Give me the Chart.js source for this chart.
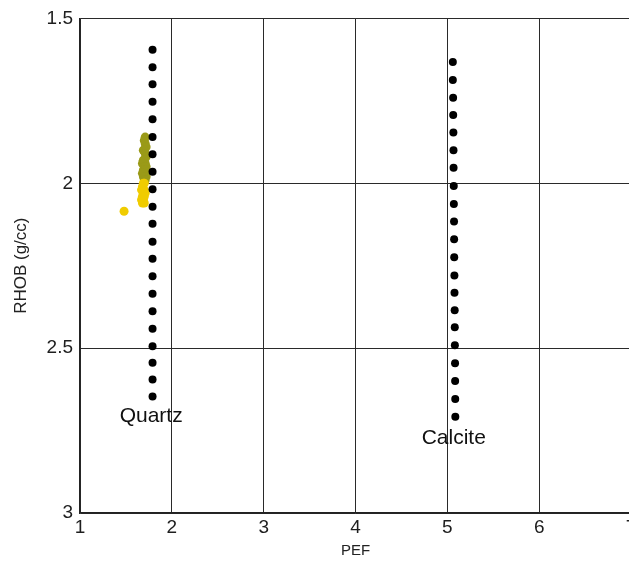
<!DOCTYPE html>
<html>
<head>
<meta charset="utf-8">
<script src="https://cdn.jsdelivr.net/npm/chart.js@4.4.1/dist/chart.umd.min.js"></script>
<style>
  html, body { margin: 0; padding: 0; background: #fff; overflow: hidden; }
  #wrap { position: absolute; left: 0; top: 0; width: 680px; height: 564px; }
</style>
</head>
<body>
<div id="wrap"><canvas id="chart" width="680" height="564"></canvas></div>
<script>
// quartz line (black dots)
const quartzPef  = [1.79,1.79,1.79,1.79,1.79,1.79,1.79,1.79,1.79,1.79,1.79,1.79,1.79,1.79,1.79,1.79,1.79,1.79,1.79,1.79,1.79];
const quartzRhob = [1.595,1.648,1.700,1.753,1.806,1.860,1.912,1.965,2.018,2.071,2.123,2.177,2.229,2.282,2.335,2.388,2.441,2.494,2.544,2.595,2.647];

// calcite line (black dots)
const calcitePef  = [5.06,5.06,5.063,5.064,5.066,5.067,5.068,5.07,5.071,5.073,5.074,5.075,5.077,5.078,5.08,5.081,5.082,5.084,5.085,5.086,5.087];
const calciteRhob = [1.632,1.687,1.741,1.793,1.846,1.900,1.953,2.008,2.063,2.116,2.170,2.224,2.280,2.332,2.385,2.437,2.491,2.546,2.600,2.654,2.708];

// olive samples
const olivePef  = [1.71,1.70,1.71,1.72,1.69,1.70,1.71,1.72,1.69,1.70,1.71,1.68,1.70,1.72,1.69,1.71,1.70,1.68,1.72,1.69,1.71,1.70];
const oliveRhob = [1.86,1.87,1.88,1.89,1.90,1.90,1.91,1.92,1.93,1.93,1.94,1.94,1.95,1.95,1.96,1.96,1.97,1.97,1.98,1.98,1.99,1.99];

// yellow samples
const yellowPef  = [1.69,1.70,1.68,1.70,1.67,1.69,1.71,1.68,1.70,1.67,1.69,1.70,1.68,1.48];
const yellowRhob = [2.00,2.00,2.01,2.02,2.02,2.03,2.03,2.04,2.04,2.05,2.05,2.06,2.06,2.085];

// text labels
const labelText = ['Quartz', 'Calcite'];
const labelPef  = [1.775, 5.07];
const labelRhob = [2.705, 2.772];

const xTicks = [1, 2, 3, 4, 5, 6, 7];
const yTicks = [1.5, 2, 2.5, 3];

function toPoints(xs, ys) {
    return xs.map((x, i) => ({ x: x, y: ys[i] }));
}

const textLabels = {
    id: 'textLabels',
    afterDatasetsDraw(chart) {
        const ctx = chart.ctx;
        const xs = chart.scales.x;
        const ys = chart.scales.y;
        ctx.save();
        ctx.font = '21px "Liberation Sans", Arial, sans-serif';
        ctx.fillStyle = '#111';
        ctx.textAlign = 'center';
        ctx.textBaseline = 'middle';
        labelText.forEach((t, i) => {
            ctx.fillText(t, xs.getPixelForValue(labelPef[i]), ys.getPixelForValue(labelRhob[i]));
        });
        ctx.restore();
    }
};

const family = '"Liberation Sans", Arial, sans-serif';
const tickFont = { family: family, size: 19 };

new Chart(document.getElementById('chart').getContext('2d'), {
    type: 'scatter',
    data: {
        datasets: [
            { label: 'Quartz', data: toPoints(quartzPef, quartzRhob), backgroundColor: '#000', borderWidth: 0, pointRadius: 4 },
            { label: 'Calcite', data: toPoints(calcitePef, calciteRhob), backgroundColor: '#000', borderWidth: 0, pointRadius: 4 },
            { label: 'Yellow', data: toPoints(yellowPef, yellowRhob), backgroundColor: '#f0cc00', borderWidth: 0, pointRadius: 4.5 },
            { label: 'Olive', data: toPoints(olivePef, oliveRhob), backgroundColor: '#9a9a18', borderWidth: 0, pointRadius: 4.5 }
        ]
    },
    options: {
        responsive: false,
        animation: false,
        layout: { padding: { top: 18, right: 49, left: 0, bottom: 0 } },
        plugins: { legend: { display: false }, tooltip: { enabled: false } },
        scales: {
            x: {
                type: 'linear',
                min: 1, max: 7,
                afterBuildTicks: s => { s.ticks = xTicks.map(v => ({ value: v })); },
                afterFit: s => { s.height = 51; },
                grid: { color: '#2a2a2a', lineWidth: 1, drawTicks: false },
                border: { color: '#222', width: 1.5 },
                ticks: { color: '#1e1e1e', font: tickFont, padding: 3, maxRotation: 0 },
                title: { display: true, text: 'PEF', color: '#222', font: { family: family, size: 15 }, padding: { top: 0, bottom: 4 } }
            },
            y: {
                type: 'linear',
                reverse: true,
                min: 1.5, max: 3,
                afterBuildTicks: s => { s.ticks = yTicks.map(v => ({ value: v })); },
                afterFit: s => { s.width = 80; },
                grid: { color: '#2a2a2a', lineWidth: 1, drawTicks: false },
                border: { color: '#222', width: 1.5 },
                ticks: { color: '#1e1e1e', font: tickFont, padding: 7, callback: v => String(v) },
                title: { display: true, text: 'RHOB (g/cc)', color: '#222', font: { family: family, size: 17 }, padding: { top: 11, bottom: 0 } }
            }
        }
    },
    plugins: [textLabels]
});
</script>
</body>
</html>
